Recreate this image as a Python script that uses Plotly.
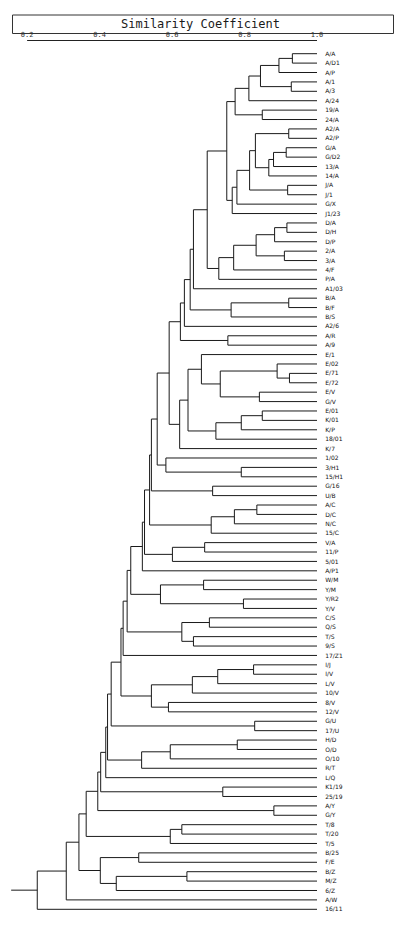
import plotly.graph_objects as go

# ---------------- data ----------------
leaf_labels = ["A/A", "A/D1", "A/P", "A/1", "A/3", "A/24", "19/A", "24/A", "A2/A", "A2/P",
               "G/A", "G/D2", "13/A", "14/A", "J/A", "J/1", "G/X", "J1/23", "D/A", "D/H",
               "D/P", "2/A", "3/A", "4/F", "P/A", "A1/03", "B/A", "B/F", "B/S", "A2/6",
               "A/R", "A/9", "E/1", "E/02", "E/71", "E/72", "E/V", "G/V", "E/01", "K/01",
               "K/P", "18/01", "K/7", "1/02", "3/H1", "15/H1", "G/16", "U/B", "A/C", "D/C",
               "N/C", "15/C", "V/A", "11/P", "5/01", "A/P1", "W/M", "Y/M", "Y/R2", "Y/V",
               "C/S", "Q/S", "T/S", "9/S", "17/Z1", "I/J", "I/V", "L/V", "10/V", "8/V",
               "12/V", "G/U", "17/U", "H/D", "O/D", "O/10", "R/T", "L/Q", "K1/19", "25/19",
               "A/Y", "G/Y", "T/8", "T/20", "T/5", "B/25", "F/E", "B/Z", "M/Z", "6/Z",
               "A/W", "16/11"]

# each merge joins leaf range [first .. split-1] with [split .. last]
merge_first = [0, 0, 3, 0, 0, 6, 0,
               8, 10, 10, 10, 8, 14, 8, 8, 8, 0,
               18, 18, 21, 18, 18, 18, 0, 0,
               26, 26, 0, 0, 30, 0,
               34, 33, 36, 33, 32, 38, 38, 38, 32, 32, 0,
               44, 43, 0, 46, 0,
               48, 48, 48, 0,
               52, 52, 0, 0,
               56, 58, 56, 0,
               60, 62, 60, 0, 0,
               65, 65, 65, 69, 65, 0,
               71, 0,
               73, 73, 73, 0, 0,
               78, 0, 80, 0,
               82, 82, 0,
               85, 87, 87, 85, 0, 0, 0]
merge_split = [1, 2, 4, 3, 5, 7, 6,
               9, 11, 12, 13, 10, 15, 14, 16, 17, 8,
               19, 20, 22, 21, 23, 24, 18, 25,
               27, 28, 26, 29, 31, 30,
               35, 34, 37, 36, 33, 39, 40, 41, 38, 42, 32,
               45, 44, 43, 47, 46,
               49, 50, 51, 48,
               53, 54, 52, 55,
               57, 59, 58, 56,
               61, 63, 62, 60, 64,
               66, 67, 68, 70, 69, 65,
               72, 71,
               74, 75, 76, 73, 77,
               79, 78, 81, 80,
               83, 84, 82,
               86, 88, 89, 87, 85, 90, 91]
merge_last = [1, 2, 4, 4, 5, 7, 7,
              9, 11, 12, 13, 13, 15, 15, 16, 17, 17,
              19, 20, 22, 22, 23, 24, 24, 25,
              27, 28, 28, 29, 31, 31,
              35, 35, 37, 37, 37, 39, 40, 41, 41, 42, 42,
              45, 45, 45, 47, 47,
              49, 50, 51, 51,
              53, 54, 54, 55,
              57, 59, 59, 59,
              61, 63, 63, 63, 64,
              66, 67, 68, 70, 70, 70,
              72, 72,
              74, 75, 76, 76, 77,
              79, 79, 81, 81,
              83, 84, 84,
              86, 88, 89, 89, 89, 90, 91]
merge_similarity = [0.932, 0.895, 0.929, 0.844, 0.812, 0.849, 0.774,
                    0.922, 0.915, 0.880, 0.867, 0.830, 0.919, 0.814, 0.779, 0.766, 0.751,
                    0.917, 0.883, 0.910, 0.832, 0.770, 0.729, 0.697, 0.659,
                    0.922, 0.763, 0.650, 0.634, 0.754, 0.623,
                    0.924, 0.890, 0.841, 0.733, 0.681, 0.849, 0.791, 0.721, 0.644, 0.621, 0.592,
                    0.791, 0.583, 0.559, 0.712, 0.543,
                    0.834, 0.772, 0.708, 0.538,
                    0.690, 0.601, 0.524, 0.518,
                    0.687, 0.797, 0.568, 0.486,
                    0.703, 0.659, 0.627, 0.476, 0.465,
                    0.825, 0.726, 0.656, 0.590, 0.543, 0.459,
                    0.828, 0.432,
                    0.780, 0.595, 0.516, 0.422, 0.417,
                    0.740, 0.403, 0.881, 0.395,
                    0.627, 0.595, 0.363,
                    0.508, 0.641, 0.446, 0.402, 0.343, 0.308, 0.228]
root_stub_similarity = 0.156
leaf_similarity = 1.0

tick_values = [0.2, 0.4, 0.6, 0.8, 1.0]
tick_labels = ["0.2", "0.4", "0.6", "0.8", "1.0"]
axis_title = "Similarity Coefficient"

# ---------------- build dendrogram segments ----------------
nodes = {}


def child(a, b):
    if a == b:
        return leaf_similarity, float(a)
    return nodes[(a, b)]


xs, ys = [], []
order = sorted(range(len(merge_first)), key=lambda i: merge_last[i] - merge_first[i])
for i in order:
    a, s, b, sim = merge_first[i], merge_split[i], merge_last[i], merge_similarity[i]
    ls, ly = child(a, s - 1)
    rs, ry = child(s, b)
    xs += [ls, sim, sim, rs, None]
    ys += [ly, ly, ry, ry, None]
    nodes[(a, b)] = (sim, (ly + ry) / 2)

root_sim, root_y = nodes[(0, len(leaf_labels) - 1)]
xs += [root_sim, root_stub_similarity, None]
ys += [root_y, root_y, None]

# ---------------- figure ----------------
W, H = 410, 929
ML, MR, MT, MB = 9, 93, 38, 15
PW, PH = W - ML - MR, H - MT - MB
PLOT_TOP = 49  # pixel row of the top of the tree area


def px_x(p):
    return (p - ML) / PW


def px_y(p):
    return (H - MB - p) / PH


fig = go.Figure()
fig.add_trace(go.Scatter(x=xs, y=ys, mode="lines",
                         line=dict(color="#1a1a1a", width=1),
                         hoverinfo="skip", showlegend=False))

n = len(leaf_labels)
fig.update_layout(
    width=W, height=H, autosize=False,
    margin=dict(l=ML, r=MR, t=MT, b=MB, pad=0),
    plot_bgcolor="white", paper_bgcolor="white",
    showlegend=False,
    xaxis=dict(range=[0.15, 1.0], side="top", anchor="free", position=1.0,
               tickmode="array", tickvals=tick_values, ticktext=tick_labels,
               ticks="", showgrid=False, zeroline=False, showline=False,
               tickfont=dict(family="DejaVu Sans Mono", size=7, color="#333333")),
    yaxis=dict(range=[n - 0.5, -0.5], domain=[0, px_y(PLOT_TOP)], side="right",
               tickmode="array", tickvals=list(range(n)), ticktext=leaf_labels,
               ticks="outside", ticklen=6, tickcolor="rgba(0,0,0,0)",
               showgrid=False, zeroline=False, showline=False,
               tickfont=dict(family="DejaVu Sans", size=6, color="#111111")),
)

# axis base line from 0.2 to 1.0
fig.add_shape(type="line", xref="x", yref="paper", x0=tick_values[0], x1=tick_values[-1],
              y0=px_y(40.5), y1=px_y(40.5), line=dict(color="#222222", width=1))
# title box
fig.add_shape(type="rect", xref="paper", yref="paper",
              x0=px_x(12.5), x1=px_x(393.5), y0=px_y(33.5), y1=px_y(15),
              line=dict(color="#333333", width=1), fillcolor="rgba(0,0,0,0)")
fig.add_annotation(text=axis_title, xref="paper", yref="paper",
                   x=px_x(200), y=px_y(24.5), showarrow=False,
                   xanchor="center", yanchor="middle",
                   font=dict(family="DejaVu Sans Mono", size=12, color="#1a1a1a"))

fig.write_html("out.html", config={"displayModeBar": False},
               post_script="document.body.style.margin='0';")
